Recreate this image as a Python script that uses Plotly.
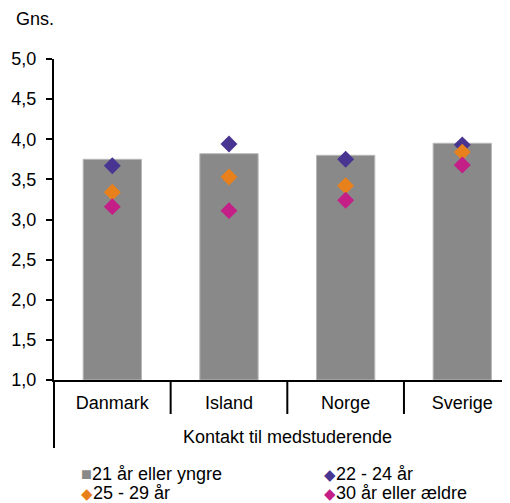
import plotly.graph_objects as go

countries = ['Danmark', 'Island', 'Norge', 'Sverige']
age_21 = [3.75, 3.82, 3.80, 3.95]
age_22_24 = [3.67, 3.94, 3.75, 3.93]
age_25_29 = [3.34, 3.53, 3.42, 3.84]
age_30 = [3.16, 3.11, 3.24, 3.68]
group_title = 'Kontakt til medstuderende'

FONT = 'Liberation Sans, Arial, sans-serif'
FS = 18

series = [('21 år eller yngre', '#898989', '■'),
          ('22 - 24 år', '#483592', '◆'),
          ('25 - 29 år', '#e8801c', '◆'),
          ('30 år eller ældre', '#c41e87', '◆')]

fig = go.Figure()
fig.add_trace(go.Bar(x=countries, y=[v - 1 for v in age_21], base=1, width=0.5,
                     name=series[0][0],
                     marker=dict(color=series[0][1], line=dict(color='#b8b8b8', width=1))))
for (name, col, _), vals in zip(series[1:], [age_22_24, age_25_29, age_30]):
    fig.add_trace(go.Scatter(x=countries, y=vals, mode='markers', name=name,
                             marker=dict(symbol='diamond', size=13, color=col)))

# category separators under the axis + y-axis extension
shapes = []
for sx in [0.5, 1.5, 2.5]:
    shapes.append(dict(type='line', xref='x', yref='paper', x0=sx, x1=sx, y0=0, y1=-0.106,
                       line=dict(color='black', width=2)))
shapes.append(dict(type='line', xref='paper', yref='paper', x0=0, x1=0, y0=0, y1=-0.212,
                   line=dict(color='black', width=2)))

annotations = [
    dict(text='Gns.', xref='paper', yref='paper', x=-0.088, y=1.125, xanchor='left',
         yanchor='middle', showarrow=False),
    dict(text=group_title, xref='x', yref='paper', x=1.5, y=-0.178, xanchor='center',
         yanchor='middle', showarrow=False),
]
# legend in two columns, Excel style
leg_pos = [(0.055, -0.294), (0.588, -0.294), (0.055, -0.352), (0.588, -0.352)]
for (name, col, sym), (lx, ly) in zip(series, leg_pos):
    size = 18 if sym == '■' else 15
    annotations.append(dict(
        text=f'<span style="color:{col};font-size:{size}px">{sym}</span>{name}',
        xref='paper', yref='paper', x=lx, y=ly, xanchor='left', yanchor='middle',
        showarrow=False))

fig.update_layout(
    width=510, height=503,
    margin=dict(l=46, r=8, t=51, b=131, autoexpand=False),
    paper_bgcolor='white', plot_bgcolor='white',
    font=dict(family=FONT, size=FS, color='black'),
    separators=',.',
    hovermode=False,
    showlegend=False,
    shapes=shapes,
    annotations=annotations,
)
fig.update_xaxes(range=[-0.5, 3.409], showline=True, linecolor='black', linewidth=2,
                 ticks='', ticklabelstandoff=5, showgrid=False, zeroline=False)
fig.update_yaxes(range=[1, 5], dtick=0.5, tickformat='.1f', showline=True, linecolor='black',
                 linewidth=2, ticks='outside', ticklen=6, tickwidth=2, tickcolor='black',
                 ticklabelstandoff=6, showgrid=False, zeroline=False)

fig.write_html('out.html')
